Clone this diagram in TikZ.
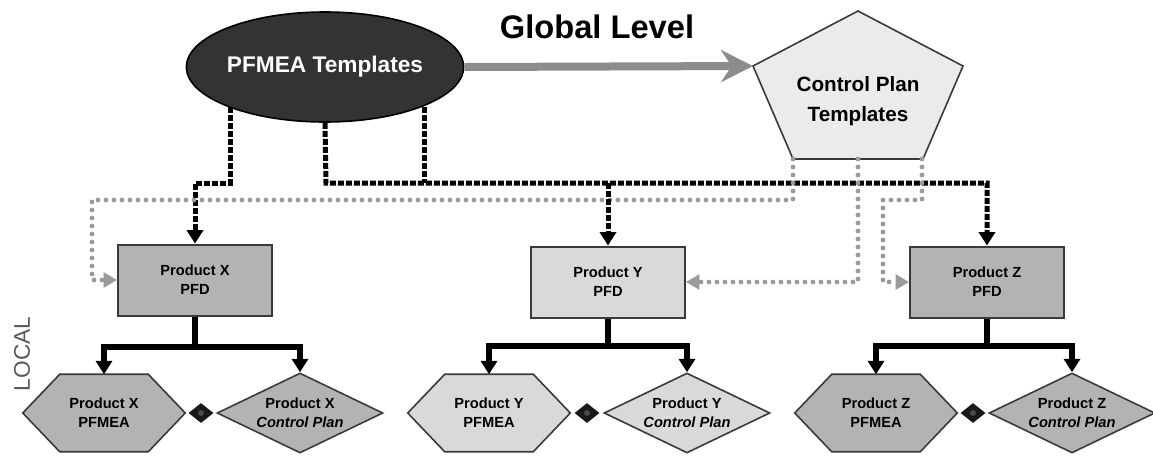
\documentclass[tikz,border=0pt]{standalone}
\usepackage{fontspec}
\setmainfont{Liberation Sans}
\usetikzlibrary{arrows.meta,shapes.geometric,calc}
\pgfdeclarelayer{bg}
\pgfdeclarelayer{paper}
\pgfsetlayers{paper,bg,main}
\definecolor{ellfill}{HTML}{333333}
\definecolor{pentfill}{HTML}{EBEBEB}
\definecolor{boxdark}{HTML}{B3B3B3}
\definecolor{boxlight}{HTML}{D9D9D9}
\definecolor{arrgray}{HTML}{8C8C8C}
\definecolor{dotgray}{HTML}{9A9A9A}
\definecolor{edgegray}{HTML}{3A3A3A}
\tikzset{
  pfdbox/.style={rectangle, draw=edgegray, line width=1.5pt, minimum width=115.5pt, minimum height=53.25pt, inner sep=0pt, align=center, font=\fontsize{11}{14}\selectfont\bfseries},
  hexholder/.style={rectangle, minimum width=121.5pt, minimum height=57.75pt, inner sep=0pt, align=center, font=\fontsize{11}{14}\selectfont\bfseries},
  hexline/.style={draw=edgegray, line width=1.2pt},
  cpdiamond/.style={diamond, aspect=2.07, draw=edgegray, line width=1.2pt, minimum width=124.5pt, minimum height=60pt, inner sep=0pt, align=center, font=\fontsize{11}{14}\selectfont\bfseries},
  smalldia/.style={diamond, fill=black!90, minimum width=18.75pt, minimum height=15pt, inner sep=0pt},
  blackflow/.style={line width=4.5pt, draw=black, -{Triangle[length=10pt,width=12pt]}},
  blackdot/.style={line width=3.75pt, draw=black, dash pattern=on 4.5pt off 1.5pt},
  blackdotarrow/.style={blackdot, -{Triangle[length=10pt,width=12pt]}},
  graydot/.style={line width=3.6pt, draw=dotgray, line cap=round, dash pattern=on 0pt off 6pt},
  graydotarrow/.style={graydot, -{Triangle[length=10pt,width=11pt,fill=dotgray,color=dotgray]}},
}
\begin{document}
\begin{tikzpicture}[x=0.75pt,y=-0.75pt]
\useasboundingbox (0,0) rectangle (1153,457);
\begin{pgfonlayer}{paper}
\fill[white] (0,0) rectangle (1153,457);
\end{pgfonlayer}

% title
\node (title) at (597,27) {\fontsize{24.5}{28}\selectfont\bfseries Global Level};

% PFMEA templates ellipse
\node[ellipse, draw=black, line width=1.2pt, fill=ellfill, minimum width=207pt, minimum height=82.5pt, inner sep=0pt, text=white, font=\fontsize{17}{20}\selectfont\bfseries] (pf) at (325,67) {PFMEA Templates};

% Control plan templates pentagon
\path[draw=edgegray, line width=1.2pt, fill=pentfill]
  (858,11) coordinate (cpT) -- (963,66) coordinate (cpR) -- (923,159) coordinate (cpBR)
  -- (793,159) coordinate (cpBL) -- (753,66) coordinate (cpL) -- cycle;
\node[align=center, font=\fontsize{15.5}{23}\selectfont\bfseries] (cp) at (858,101) {Control Plan\\Templates};
\coordinate (cpS1) at (793,159);
\coordinate (cpS2) at (858,159);
\coordinate (cpS3) at (922,159);

% global arrow
\draw[line width=6pt, arrgray, -{Stealth[length=24pt,width=24pt,inset=8pt]}] (pf.east) -- (cpL);

% PFD boxes
\node[pfdbox, fill=boxdark] (px) at (195,280) {Product X\\PFD};
\node[pfdbox, fill=boxlight] (py) at (608,282) {Product Y\\PFD};
\node[pfdbox, fill=boxdark] (pz) at (987,282) {Product Z\\PFD};

% hexagon holders
\node[hexholder] (hx) at (104,413) {Product X\\PFMEA};
\node[hexholder] (hy) at (489,413) {Product Y\\PFMEA};
\node[hexholder] (hz) at (876,413) {Product Z\\PFMEA};
\begin{pgfonlayer}{bg}
\foreach \h/\c in {hx/boxdark, hy/boxlight, hz/boxdark}{
  \draw[hexline, fill=\c] (\h.west) -- ($(\h.north west)+(37,0)$) -- ($(\h.north east)+(-37,0)$)
    -- (\h.east) -- ($(\h.south east)+(-37,0)$) -- ($(\h.south west)+(37,0)$) -- cycle;
}
\end{pgfonlayer}

% control plan diamonds
\node[cpdiamond, fill=boxdark] (dx) at (300,413) {Product X\\\textit{Control Plan}};
\node[cpdiamond, fill=boxlight] (dy) at (687,413) {Product Y\\\textit{Control Plan}};
\node[cpdiamond, fill=boxdark] (dz) at (1072,413) {Product Z\\\textit{Control Plan}};

% small link diamonds
\node[smalldia] (sx) at (201,413) {};
\node[smalldia] (sy) at (587,413) {};
\node[smalldia] (sz) at (973,413) {};
\foreach \s in {sx,sy,sz}{ \fill[black!70] (\s.center) circle (2.2pt); }

% LOCAL label
\node[rotate=90, text=black!65, font=\fontsize{17}{17}\selectfont] (local) at (22,354) {LOCAL};

% local flows
\draw[blackflow] (px.south) -- ++(0,30) -| (hx.north);
\draw[blackflow] (px.south) -- ++(0,30) -| (dx.north);
\draw[blackflow] (py.south) -- ++(0,27) -| (hy.north);
\draw[blackflow] (py.south) -- ++(0,27) -| (dy.north);
\draw[blackflow] (pz.south) -- ++(0,27) -| (hz.north);
\draw[blackflow] (pz.south) -- ++(0,27) -| (dz.north);

% black dotted from PFMEA templates
\coordinate (bA) at (230,183);
\coordinate (bB) at (326,183);
\coordinate (bC) at (608,183);
\coordinate (bD) at (424,183);
\begin{pgfonlayer}{bg}
\draw[blackdotarrow] (pf.south) -- (bB) -- (bB -| pz.north) -- (pz.north);
\draw[blackdot] (pf.center -| bD) -- (bD);
\end{pgfonlayer}

% gray dotted from control plan templates
\draw[graydotarrow] (cpS1) -- (793,200) -- (92,200) -- (92,280) -- (px.west);
\draw[graydotarrow] (cpS2) -- (858,282) -- (py.east);
\draw[graydotarrow] (cpS3) -- (922,200) -- (883,200) -- (883,282) -- (pz.west);

\begin{pgfonlayer}{bg}
\draw[blackdotarrow] (pf.center -| bA) -- (bA) -- (195,183) -- (px.north);
\end{pgfonlayer}
\draw[blackdotarrow] (bC) -- (py.north);
\end{tikzpicture}
\end{document}
